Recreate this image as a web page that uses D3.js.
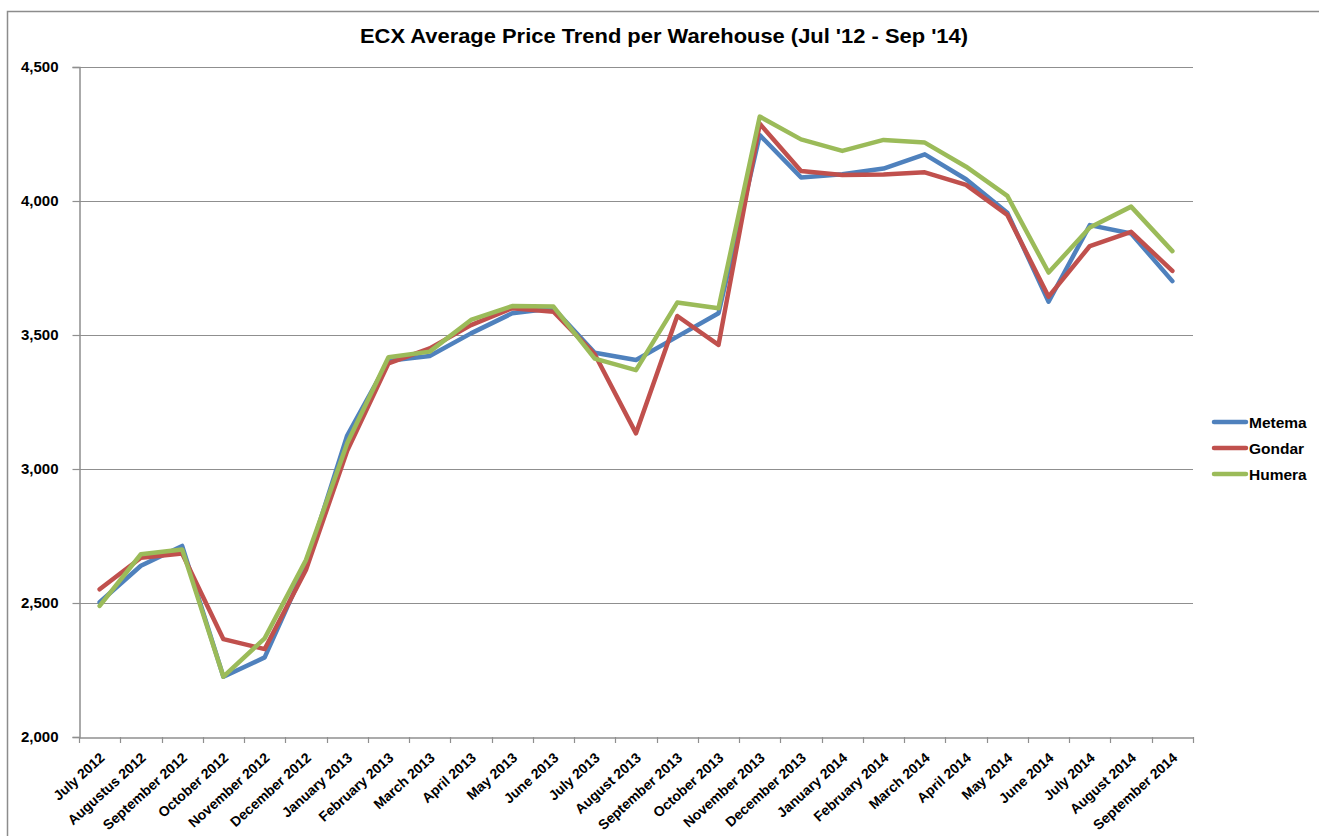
<!DOCTYPE html>
<html>
<head>
<meta charset="utf-8">
<script src="https://cdn.jsdelivr.net/npm/d3@7"></script>
<style>
  html, body { margin: 0; padding: 0; background: #fff; }
  svg { display: block; font-family: "Liberation Sans", Arial, sans-serif; }
</style>
</head>
<body>
<svg id="chart" width="1319" height="836"></svg>
<script>
const categories = ["July 2012","Augustus 2012","September 2012","October 2012","November 2012","December 2012",
  "January 2013","February 2013","March 2013","April 2013","May 2013","June 2013","July 2013","August 2013",
  "September 2013","October 2013","November 2013","December 2013","January 2014","February 2014","March 2014",
  "April 2014","May 2014","June 2014","July 2014","August 2014","September 2014"];
const metema = [2503,2639,2713,2225,2297,2640,3125,3404,3422,3506,3581,3600,3434,3407,3494,3581,4246,4088,4100,4121,4174,4081,3956,3624,3910,3879,3701];
const gondar = [2551,2669,2685,2365,2328,2623,3068,3394,3450,3537,3600,3587,3428,3133,3571,3463,4288,4112,4097,4099,4107,4060,3948,3643,3832,3885,3739];
const humera = [2489,2682,2700,2225,2368,2660,3096,3417,3438,3556,3608,3606,3412,3369,3621,3600,4315,4230,4187,4228,4218,4128,4019,3733,3901,3979,3813];
const yTicks = [2000,2500,3000,3500,4000,4500];
const seriesNames = ["Metema","Gondar","Humera"];
const seriesColors = ["#4F81BD","#C0504D","#9BBB59"];
const titleText = "ECX Average Price Trend per Warehouse (Jul '12 - Sep '14)";

const svg = d3.select("#chart");
const series = [metema, gondar, humera];

// outer border
svg.append("rect").attr("x",7.5).attr("y",11.5).attr("width",1330).attr("height",850)
  .attr("fill","none").attr("stroke","#8c8c8c").attr("stroke-width",1.5);

const x = d3.scaleBand().domain(categories).range([79,1193]);
const y = d3.scaleLinear().domain([2000,4500]).range([737,67]);

// gridlines
svg.append("g").selectAll("line").data(yTicks.filter(d=>d>2000)).join("line")
  .attr("x1",79).attr("x2",1193).attr("y1",d=>Math.round(y(d))+0.5).attr("y2",d=>Math.round(y(d))+0.5)
  .attr("stroke","#8f8f8f").attr("stroke-width",1.2);

// y axis
const yAxis = svg.append("g").attr("transform","translate(79.5,0)")
  .call(d3.axisLeft(y).tickValues(yTicks).tickSize(7).tickFormat(d3.format(",")));
yAxis.select(".domain").attr("stroke","#8f8f8f").attr("stroke-width",1.5);
yAxis.selectAll(".tick line").attr("stroke","#8f8f8f").attr("stroke-width",1.2);
yAxis.selectAll(".tick text").attr("x",-21).attr("font-size",15).attr("font-weight","bold")
  .attr("fill","#000").attr("font-family","Liberation Sans, Arial, sans-serif");

// x axis
const xAxis = svg.append("g").attr("transform","translate(0,737.5)")
  .call(d3.axisBottom(x).tickSize(0).tickFormat(""));
xAxis.select(".domain").attr("stroke","#8f8f8f").attr("stroke-width",1.5);
const bounds = categories.map(c => x(c)).concat([x.range()[1]]);
svg.append("g").selectAll("line").data(bounds).join("line")
  .attr("x1",d=>Math.round(d)+0.5).attr("x2",d=>Math.round(d)+0.5).attr("y1",737).attr("y2",743)
  .attr("stroke","#8f8f8f").attr("stroke-width",1.2);
svg.append("g").selectAll("text").data(categories).join("text")
  .attr("transform", d => `translate(${x(d)+x.bandwidth()/2+6},${759}) rotate(-42)`)
  .attr("text-anchor","end")
  .attr("font-size",14).attr("font-weight","bold").attr("fill","#000")
  .text(d=>d);

// lines
const line = d3.line().x((d,i)=>x(categories[i])+x.bandwidth()/2).y(d=>y(d));
svg.append("g").selectAll("path").data(series).join("path")
  .attr("d",d=>line(d)).attr("fill","none")
  .attr("stroke",(d,i)=>seriesColors[i]).attr("stroke-width",4.5)
  .attr("stroke-linejoin","round").attr("stroke-linecap","round");

// legend
const legY = [422,448,474];
const leg = svg.append("g").selectAll("g").data(seriesNames).join("g")
  .attr("transform",(d,i)=>`translate(0,${legY[i]})`);
leg.append("line").attr("x1",1214).attr("x2",1246).attr("y1",0).attr("y2",0)
  .attr("stroke",(d,i)=>seriesColors[i]).attr("stroke-width",4.5).attr("stroke-linecap","round");
leg.append("text").attr("x",1249).attr("dy","0.36em").attr("font-size",15.5).attr("font-weight","bold")
  .attr("fill","#000").text(d=>d);

// title
svg.append("text").attr("x",360).attr("y",43).attr("font-size",20.5).attr("font-weight","bold")
  .attr("fill","#000").attr("textLength",608).attr("lengthAdjust","spacingAndGlyphs").text(titleText);
</script>
</body>
</html>
